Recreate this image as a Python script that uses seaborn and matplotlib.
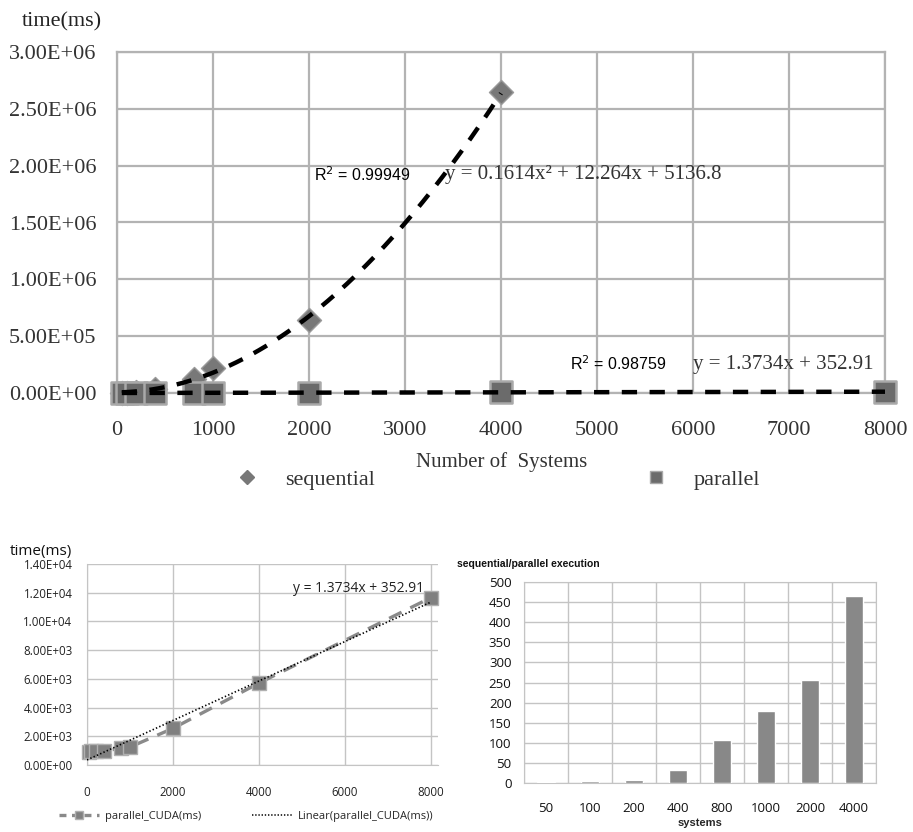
import numpy as np
import pandas as pd
import matplotlib
matplotlib.use("Agg")
import matplotlib.pyplot as plt
from matplotlib.lines import Line2D
import seaborn as sns

# ---------------- data ----------------
systems_seq = [50, 100, 200, 400, 800, 1000, 2000, 4000]
sequential_ms = [2400, 4000, 7500, 31000, 125000, 222000, 645000, 2650000]

systems_par = [50, 100, 200, 400, 800, 1000, 2000, 4000, 8000]
parallel_ms = [930, 950, 960, 1000, 1150, 1250, 2550, 5700, 11650]

quad_coef = [0.1614, 12.264, 5136.8]   # sequential trend (R^2 = 0.99949)
lin_coef = [1.3734, 352.91]            # parallel trend (R^2 = 0.98759)

speed_cats = ["50", "100", "200", "400", "800", "1000", "2000", "4000"]
speedup = [2.5, 4, 8, 32, 108, 178, 257, 466]

top_xticks = [0, 1000, 2000, 3000, 4000, 5000, 6000, 7000, 8000]
top_yticks = [0, 5e5, 1e6, 1.5e6, 2e6, 2.5e6, 3e6]
bl_xticks = [0, 2000, 4000, 6000, 8000]
bl_yticks = [0, 2000, 4000, 6000, 8000, 10000, 12000, 14000]
br_yticks = [0, 50, 100, 150, 200, 250, 300, 350, 400, 450, 500]

# ---------------- style ----------------
sns.set_style("white")
SERIF = ["Liberation Serif", "DejaVu Serif"]
SANS = ["Open Sans", "DejaVu Sans"]
ARIAL = ["Liberation Sans", "DejaVu Sans"]
plt.rcParams["lines.scale_dashes"] = False
plt.rcParams["font.family"] = SERIF

W, H = 913, 832
fig = plt.figure(figsize=(W / 100, H / 100), dpi=100)


def px_axes(l, t, r, b):
    return fig.add_axes([l / W, 1 - b / H, (r - l) / W, (b - t) / H])


def sci(v):
    return f"{v:.2E}"

# ================= top chart =================
ax = px_axes(117, 52, 885, 393)
gc = "#b3b3b3"
df_seq = pd.DataFrame({"x": systems_seq, "y": sequential_ms})
df_par = pd.DataFrame({"x": systems_par, "y": parallel_ms})
sns.scatterplot(data=df_seq, x="x", y="y", marker="D", s=150, color="#787878",
                edgecolor="#999999", linewidth=1, ax=ax, zorder=3, clip_on=False)
sns.scatterplot(data=df_par, x="x", y="y", marker="s", s=230, color="#6b6b6b",
                edgecolor="#a9a9a9", linewidth=1.8, ax=ax, zorder=4, clip_on=False)

xq = np.linspace(50, 4000, 200)
sns.lineplot(x=xq, y=np.polyval(quad_coef, xq), color="black", lw=3.2,
             linestyle=(0, (11, 9)), ax=ax, zorder=5)
xl = np.linspace(50, 8000, 200)
sns.lineplot(x=xl, y=np.polyval(lin_coef, xl), color="black", lw=3.2,
             linestyle=(0, (11, 9)), ax=ax, zorder=5, clip_on=False)

ax.set_xlim(0, 8000)
ax.set_ylim(0, 3e6)
ax.set_xticks(top_xticks, labels=[str(v) for v in top_xticks],
              fontfamily=SERIF, fontsize=16, color="#333333")
ax.set_yticks(top_yticks, labels=[sci(v) for v in top_yticks],
              fontfamily=SERIF, fontsize=16, color="#333333")
ax.grid(True, color=gc, lw=1.6)
ax.set_axisbelow(True)
for s in ax.spines.values():
    s.set_color(gc)
    s.set_linewidth(1.6)
ax.tick_params(axis="y", length=4.5, color=gc, width=1.6, pad=10.5)
ax.tick_params(axis="x", length=0, pad=20)
ax.set_xlabel("")
ax.set_ylabel("")

fig.text(22 / W, 1 - 22 / H, "time(ms)", family=SERIF, fontsize=16, color="#222222",
         ha="left", va="center")
fig.text(502 / W, 1 - 462 / H, "Number of  Systems", family=SERIF, fontsize=15,
         color="#333333", ha="center", va="center")

fig.text(314 / W, 1 - 175 / H, "R$^2$ = 0.99949", family=ARIAL, fontsize=11.5,
         color="black", ha="left", va="center")
fig.text(445 / W, 1 - 175 / H, "y = 0.1614x² + 12.264x + 5136.8", family=SERIF,
         fontsize=15, color="#333333", ha="left", va="center")
fig.text(570 / W, 1 - 364 / H, "R$^2$ = 0.98759", family=ARIAL, fontsize=11.5,
         color="black", ha="left", va="center")
fig.text(693 / W, 1 - 364 / H, "y = 1.3734x + 352.91", family=SERIF, fontsize=15,
         color="#333333", ha="left", va="center")

h1 = Line2D([], [], marker="D", ls="none", color="#787878", markersize=7)
h2 = Line2D([], [], marker="s", ls="none", color="#6b6b6b", markeredgecolor="#a9a9a9",
            markersize=8)
fig.legend([h1, h2], ["sequential", "parallel"], loc="center",
           bbox_to_anchor=(498 / W, 1 - 480 / H), ncol=2, frameon=False,
           prop={"family": SERIF, "size": 16}, handlelength=1.0, handletextpad=1.2,
           columnspacing=12.15, labelcolor="#333333")

# ================= bottom-left chart =================
ax2 = px_axes(87, 564, 438, 765)
gc2 = "#c4c4c4"
sns.lineplot(data=df_par, x="x", y="y", color="#8a8a8a", lw=2.4,
             linestyle=(0, (10, 7)), marker="s", markersize=9.5,
             markerfacecolor="#808080", markeredgecolor="#b0b0b0", markeredgewidth=1,
             ax=ax2, zorder=3, clip_on=False)
xl2 = np.linspace(0, 8000, 200)
sns.lineplot(x=xl2, y=np.polyval(lin_coef, xl2), color="black", lw=1.2,
             linestyle=(0, (1, 1.6)), ax=ax2, zorder=4)
ax2.set_xlim(0, 8170)
ax2.set_ylim(0, 14000)
ax2.set_xticks(bl_xticks, labels=[str(v) for v in bl_xticks],
               fontfamily=SANS, fontsize=8.3, color="#222222")
ax2.set_yticks(bl_yticks, labels=[sci(v) for v in bl_yticks],
               fontfamily=SANS, fontsize=8.3, color="#222222")
ax2.grid(True, color=gc2, lw=1)
ax2.set_axisbelow(True)
for k, s in ax2.spines.items():
    s.set_color(gc2)
    s.set_visible(k in ("left", "bottom"))
ax2.tick_params(axis="y", length=4, color=gc2, pad=6.5)
ax2.tick_params(axis="x", length=4, color=gc2, pad=11)
ax2.set_xlabel("")
ax2.set_ylabel("")
fig.text(10 / W, 1 - 551 / H, "time(ms)", family=SANS, fontsize=11, color="#111111",
         ha="left", va="center")
fig.text(293 / W, 1 - 588 / H, "y = 1.3734x + 352.91", family=SANS, fontsize=10,
         color="#222222", ha="left", va="center")
hl1 = Line2D([], [], color="#8a8a8a", lw=2.4, ls=(0, (5, 4)), marker="s", markersize=6,
             markerfacecolor="#808080", markeredgecolor="#b0b0b0")
hl2 = Line2D([], [], color="black", lw=1.1, ls=(0, (1, 1.3)))
fig.legend([hl1, hl2], ["parallel_CUDA(ms)", "Linear(parallel_CUDA(ms))"], loc="center",
           bbox_to_anchor=(246 / W, 1 - 816 / H), ncol=2, frameon=False,
           prop={"family": SANS, "size": 8}, handlelength=3.6, handletextpad=0.5,
           columnspacing=4.6)

# ================= bottom-right chart =================
ax3 = px_axes(524, 582, 876, 783)
df_sp = pd.DataFrame({"systems": speed_cats, "ratio": speedup})
sns.barplot(data=df_sp, x="systems", y="ratio", color="#888888", saturation=1,
            width=0.4, ax=ax3, zorder=3)
ax3.set_xlim(-0.5, len(speed_cats) - 0.5)
ax3.set_ylim(0, 500)
ax3.set_xticks(range(len(speed_cats)), labels=speed_cats,
               fontfamily=SANS, fontsize=9.5, color="#111111")
ax3.set_yticks(br_yticks, labels=[str(v) for v in br_yticks],
               fontfamily=SANS, fontsize=9.5, color="#111111")
ax3.set_xticks(np.arange(-0.5, len(speed_cats), 1.0), minor=True)
ax3.grid(True, axis="y", color=gc2, lw=1)
ax3.grid(True, axis="x", which="minor", color=gc2, lw=1)
ax3.grid(False, axis="x", which="major")
ax3.set_axisbelow(True)
for s in ax3.spines.values():
    s.set_color(gc2)
ax3.tick_params(axis="both", which="both", length=0)
ax3.tick_params(axis="y", pad=9)
ax3.tick_params(axis="x", pad=14)
ax3.set_ylabel("")
ax3.set_xlabel("systems", family=ARIAL, fontsize=8, fontweight="bold", labelpad=2)
fig.text(457 / W, 1 - 564 / H, "sequential/parallel execution", family=ARIAL,
         fontsize=7.5, fontweight="bold", color="#111111", ha="left", va="center")

fig.savefig("out.png", dpi=100, facecolor="white")
